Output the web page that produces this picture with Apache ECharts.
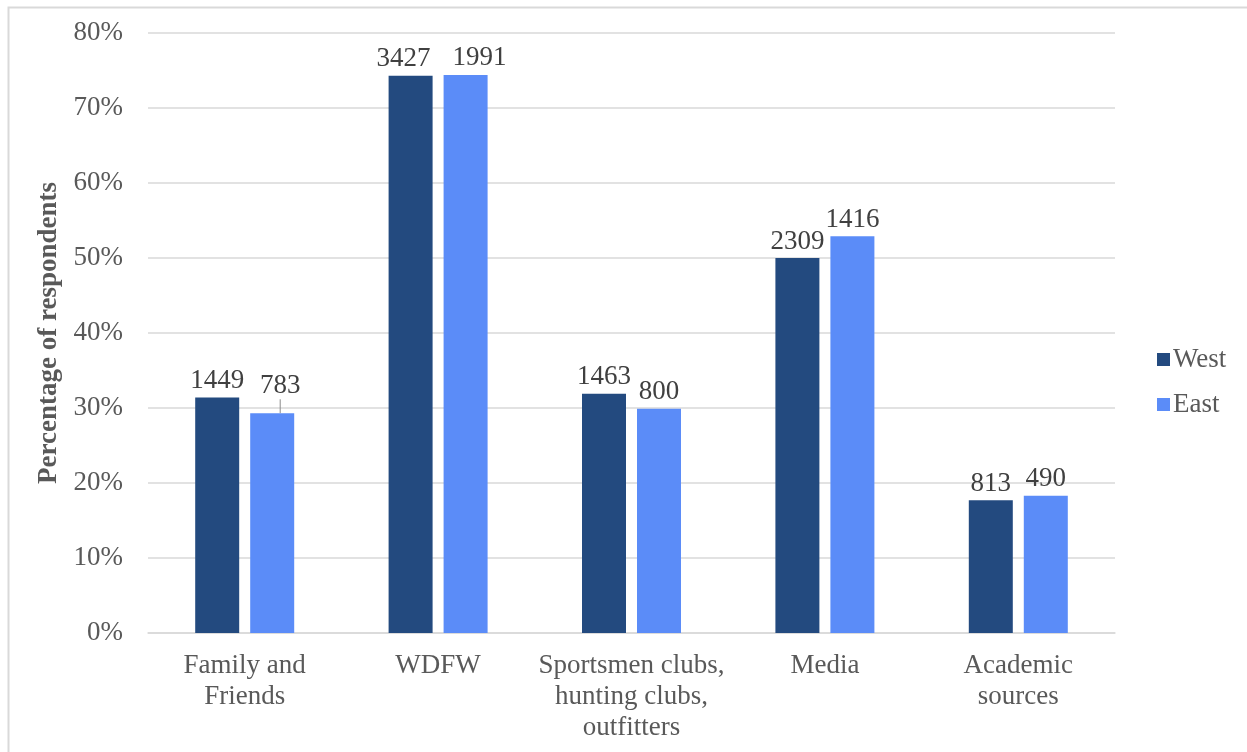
<!DOCTYPE html>
<html><head><meta charset="utf-8">
<script src="https://cdn.jsdelivr.net/npm/echarts@6/dist/echarts.min.js"></script>
<style>html,body{margin:0;padding:0;background:#fff}#c{width:1247px;height:752px}</style>
</head><body><div id="c"></div>
<script>
const categories = ['Family and\nFriends', 'WDFW', 'Sportsmen clubs,\nhunting clubs,\noutfitters', 'Media', 'Academic\nsources'];
const westPct = [31.4, 74.3, 31.9, 50.0, 17.7];
const eastPct = [29.3, 74.4, 29.9, 52.9, 18.3];
const westN = [1449, 3427, 1463, 2309, 813];
const eastN = [783, 1991, 800, 1416, 490];
const yTicks = [0, 10, 20, 30, 40, 50, 60, 70, 80];

const font = '"Liberation Serif", "Times New Roman", serif';
const fs = 27;
const chart = echarts.init(document.getElementById('c'));
chart.setOption({
  animation: false,
  textStyle: {fontFamily: font},
  graphic: [{type: 'rect', left: 6, top: 5, shape: {width: 1250, height: 760}, style: {fill: 'none', stroke: '#d9d9d9', lineWidth: 2}, silent: true}],
  grid: {left: 148, right: 132, top: 33, bottom: 119},
  legend: {
    orient: 'vertical', left: 1152, top: 341, itemGap: 18, itemWidth: 13, itemHeight: 13,
    icon: 'rect', textStyle: {fontFamily: font, fontSize: fs, color: '#595959', padding: [0, 0, 0, -2]},
    data: ['West', 'East']
  },
  xAxis: {
    type: 'category', data: categories,
    axisLine: {lineStyle: {color: '#d9d9d9', width: 1.5}}, axisTick: {show: false},
    axisLabel: {fontFamily: font, fontSize: fs, color: '#595959', lineHeight: 31, margin: 17, interval: 0}
  },
  yAxis: {
    type: 'value', min: 0, max: 80, interval: 10,
    name: 'Percentage of respondents', nameLocation: 'middle', nameGap: 77,
    nameTextStyle: {fontFamily: font, fontSize: fs, fontWeight: 'bold', color: '#595959'},
    axisLabel: {fontFamily: font, fontSize: fs, color: '#595959', margin: 25,
      formatter: v => yTicks.includes(v) ? v + '%' : ''},
    splitLine: {lineStyle: {color: '#d9d9d9', width: 1.5}},
    axisLine: {show: false}, axisTick: {show: false}
  },
  series: [
    {name: 'West', type: 'bar', barWidth: 44, barGap: '25%', itemStyle: {color: '#234a7f'},
     data: westPct,
     label: {show: true, position: 'top', distance: 5, fontFamily: font, fontSize: fs, color: '#404040',
       formatter: p => westN[p.dataIndex]},
     labelLayout: p => p.dataIndex === 1 ? {dx: -7, dy: 2} : {dy: 2}},
    {name: 'East', type: 'bar', barWidth: 44, itemStyle: {color: '#5b8cf8'},
     data: eastPct.map((v, i) => i === 0 ? {value: v, labelLine: {show: true, lineStyle: {color: '#8c8c8c', width: 1}}} : v),
     label: {show: true, position: 'top', distance: 5, fontFamily: font, fontSize: fs, color: '#404040',
       formatter: p => eastN[p.dataIndex]},
     labelLayout: p => p.dataIndex === 0 ? {dx: 8, dy: -9} : (p.dataIndex === 1 ? {dx: 14, dy: 1} : {dy: 2}),
     labelLine: {show: false}}
  ]
});
</script></body></html>
